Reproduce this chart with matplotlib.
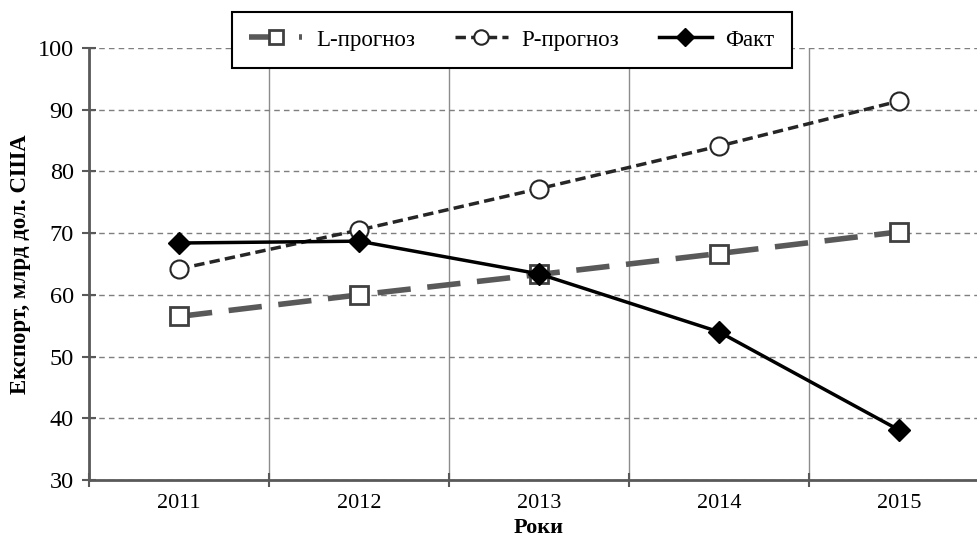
import matplotlib
matplotlib.use('Agg')
import matplotlib.pyplot as plt
import numpy as np

plt.rcParams['font.family'] = ['Liberation Serif', 'DejaVu Serif']

years = ['2011', '2012', '2013', '2014', '2015']
l_forecast = [56.5, 60.0, 63.3, 66.7, 70.2]
p_forecast = [64.2, 70.5, 77.2, 84.1, 91.4]
fact = [68.4, 68.7, 63.4, 54.0, 38.1]

fig = plt.figure(figsize=(9.78, 5.4), dpi=100)
# права межа області графіка виходить за край рисунка, як в оригіналі
ax = fig.add_axes([89/978, 60/540, 900/978, 432/540])

x = np.arange(len(years))
ax.plot(x, l_forecast, color='#595959', lw=4, ls=(0, (6, 3)),
        marker='s', ms=13, mfc='white', mec='#404040', mew=2, label='L-прогноз')
ax.plot(x, p_forecast, color='#262626', lw=2.5, ls=(0, (3, 1.5)),
        marker='o', ms=13, mfc='white', mec='#262626', mew=1.5, label='P-прогноз')
ax.plot(x, fact, color='black', lw=2.5, ls='-',
        marker='D', ms=11, mfc='black', mec='black', label='Факт')

ax.set_xlim(-0.5, 4.5)
ax.set_ylim(30, 100)
ax.set_yticks(range(30, 101, 10))

# межі категорій - основні поділки, підписи років - по центру
ax.set_xticks(np.arange(-0.5, 5, 1))
ax.set_xticklabels([])
ax.set_xticks(x, minor=True)
ax.set_xticklabels(years, minor=True)
ax.tick_params(axis='x', which='minor', length=0, pad=10, labelsize=16)
ax.tick_params(axis='x', which='major', direction='inout', length=10, width=1.5, color='#595959')
ax.tick_params(axis='y', direction='inout', length=10, width=1.5, color='#595959', labelsize=17.5, pad=6)

ax.grid(axis='y', color='#7f7f7f', ls=(0, (4, 3)), lw=1)
ax.grid(axis='x', which='major', color='#8c8c8c', ls='-', lw=1)
ax.set_axisbelow(True)

for s in ['top', 'right']:
    ax.spines[s].set_visible(False)
for s in ['left', 'bottom']:
    ax.spines[s].set_color('#595959')
    ax.spines[s].set_linewidth(2)

ax.set_xlabel('Роки', fontsize=16, fontweight='bold', labelpad=4)
ax.set_ylabel('Експорт, млрд дол. США', fontsize=16.5, fontweight='bold', labelpad=5)

leg = fig.legend(loc='center', bbox_to_anchor=(512/978, 1 - 40/540), ncol=3,
                 fontsize=16.5, frameon=True, fancybox=False, framealpha=1,
                 edgecolor='black', handlelength=2.3, columnspacing=1.75,
                 borderpad=0.75, borderaxespad=0, handletextpad=0.6, markerscale=0.8)
leg.get_frame().set_linewidth(1.5)

plt.savefig('out.png', dpi=100)
